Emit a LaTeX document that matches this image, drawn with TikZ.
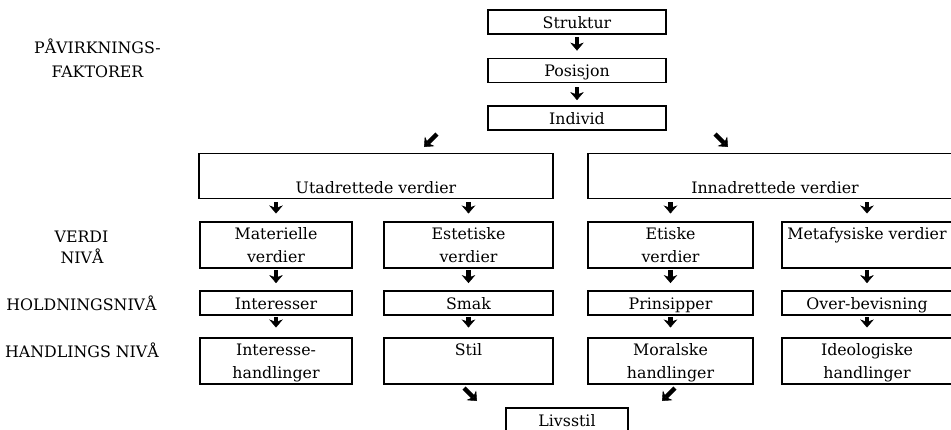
\documentclass[tikz,border=0pt]{standalone}
\usepackage{fontspec}
\setmainfont{DejaVu Serif}
\usetikzlibrary{arrows.meta}
\newcommand\mystrut{\rule[-3.5pt]{0pt}{19.5pt}}
\begin{document}
\begin{tikzpicture}[x=1pt,y=-1pt,
  every node/.style={font=\fontsize{15.8}{23}\selectfont},
  box/.style={draw, line width=1.8pt, inner sep=0pt, align=center},
  topbox/.style={box, minimum width=178pt, minimum height=24pt},
  arr/.style={line width=4.4pt, -{Stealth[length=8pt, width=13.5pt, inset=2.5pt, line width=0.4pt]}},
  lbl/.style={inner sep=0pt, anchor=base}]
\useasboundingbox (0,0) rectangle (951,429);
\clip (0,0) rectangle (951,429);
% top chain
\node[topbox] (struktur) at (577,22) {\mystrut Struktur};
\node[topbox] (posisjon) at (577,70.5) {\mystrut Posisjon};
\node[topbox] (individ) at (577,118) {\mystrut Individ};
% main groups
\node[box, minimum width=354pt, minimum height=45pt] (utad) at (376,176) {\mystrut\\\mystrut Utadrettede verdier};
\node[box, minimum width=374pt, minimum height=45pt] (innad) at (775,176) {\mystrut\\\mystrut Innadrettede verdier};
% values
\node[box, minimum width=152pt, minimum height=46pt] (mat) at (276,245) {\mystrut Materielle\\\mystrut verdier};
\node[box, minimum width=169pt, minimum height=46pt] (est) at (468.5,245) {\mystrut Estetiske\\\mystrut verdier};
\node[box, minimum width=165pt, minimum height=46pt] (eti) at (670.5,245) {\mystrut Etiske\\\mystrut verdier};
\node[box, minimum width=170pt, minimum height=46pt] (meta) at (867,245) {\mystrut Metafysiske verdier\\\mystrut};
% attitudes
\node[box, minimum width=152pt, minimum height=24pt] (matH) at (276,303) {\mystrut Interesser};
\node[box, minimum width=169pt, minimum height=24pt] (estH) at (468.5,303) {\mystrut Smak};
\node[box, minimum width=165pt, minimum height=24pt] (etiH) at (670.5,303) {\mystrut Prinsipper};
\node[box, minimum width=170pt, minimum height=24pt] (metaH) at (867,303) {\mystrut Over-bevisning};
% actions
\node[box, minimum width=152pt, minimum height=46pt] (matA) at (276,361) {\mystrut Interesse-\\\mystrut handlinger};
\node[box, minimum width=169pt, minimum height=46pt] (estA) at (468.5,361) {\mystrut Stil\\\mystrut};
\node[box, minimum width=165pt, minimum height=46pt] (etiA) at (670.5,361) {\mystrut Moralske\\\mystrut handlinger};
\node[box, minimum width=170pt, minimum height=46pt] (metaA) at (867,361) {\mystrut Ideologiske\\\mystrut handlinger};
% lifestyle
\node[box, minimum width=122pt, minimum height=24pt] (livsstil) at (567,420) {\mystrut Livsstil};
% left labels
\node[lbl] (pav1) at (97.5,53.5) {PÅVIRKNINGS-};
\node[lbl] (pav2) at (97.5,77.5) {FAKTORER};
\node[lbl] (verdi1) at (81.5,242) {VERDI};
\node[lbl] (verdi2) at (82,263) {NIVÅ};
\node[lbl] (hold) at (81.5,310) {HOLDNINGSNIVÅ};
\node[lbl] (handl) at (82,357) {HANDLINGS NIVÅ};
% arrows top chain
\draw[arr, shorten <=2pt, shorten >=7pt] (struktur) -- (posisjon);
\draw[arr, shorten <=3.6pt, shorten >=5pt] (posisjon) -- (individ);
% diagonal arrows
\coordinate (dl0) at (437,134); \coordinate (dl1) at (424,147);
\coordinate (dr0) at (715,134); \coordinate (dr1) at (728,147);
\coordinate (bl0) at (464,388); \coordinate (bl1) at (477,401);
\coordinate (br0) at (675,388); \coordinate (br1) at (662,401);
\draw[arr] (dl0) -- (dl1);
\draw[arr] (dr0) -- (dr1);
\draw[arr] (bl0) -- (bl1);
\draw[arr] (br0) -- (br1);
% group to values
\draw[arr, shorten <=3pt, shorten >=7.6pt] (mat.north |- utad.south) -- (mat.north);
\draw[arr, shorten <=3pt, shorten >=7.6pt] (est.north |- utad.south) -- (est.north);
\draw[arr, shorten <=3pt, shorten >=7.6pt] (eti.north |- innad.south) -- (eti.north);
\draw[arr, shorten <=3pt, shorten >=7.6pt] (meta.north |- innad.south) -- (meta.north);
% values to attitudes
\foreach \c in {mat,est,eti,meta} {
  \draw[arr, shorten <=1pt, shorten >=7pt] (\c) -- (\c H);
  \draw[arr, shorten <=1pt, shorten >=9.6pt] (\c H) -- (\c A);
}
\end{tikzpicture}
\end{document}
